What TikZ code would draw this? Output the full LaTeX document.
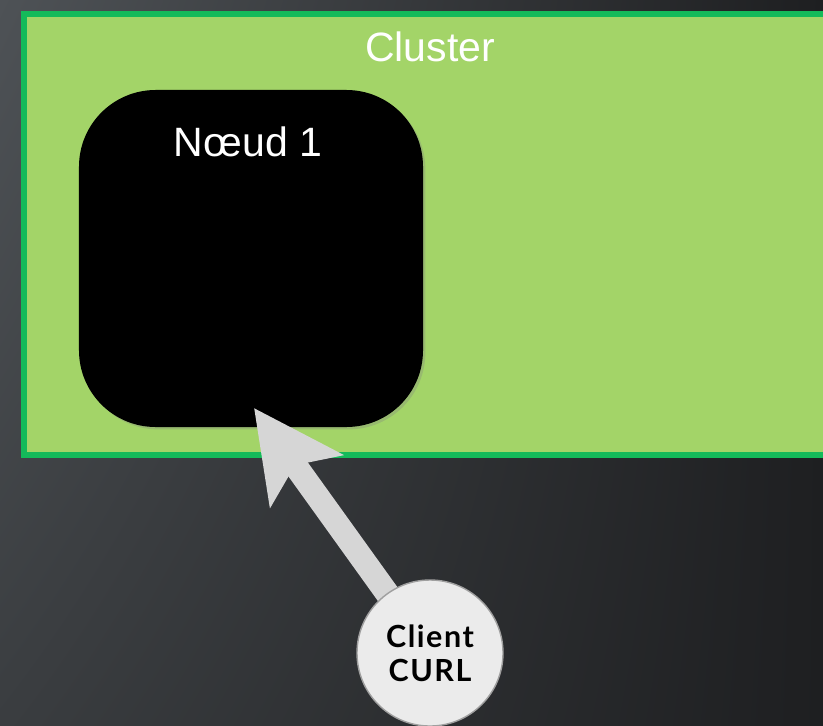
\documentclass[tikz,border=0pt]{standalone}
\usepackage{fontspec}
\setmainfont{Liberation Sans}
\newfontfamily\clientfont{Lato}[LetterSpace=5]
\usetikzlibrary{arrows.meta,shadows,shadings}
\definecolor{fondclair}{RGB}{78,82,86}
\definecolor{fondmoyen}{RGB}{58,61,64}
\definecolor{fondsombre}{RGB}{30,31,33}
\definecolor{vertclair}{RGB}{163,212,104}
\definecolor{vertbord}{RGB}{20,186,90}
\definecolor{grisfleche}{RGB}{214,214,214}
\definecolor{grisclient}{RGB}{235,235,235}
\pgfdeclarelayer{dessus}
\pgfsetlayers{main,dessus}

\begin{document}
\begin{tikzpicture}[x=0.03cm,y=-0.03cm,
  titre/.style={text=white,font=\fontsize{35}{40}\selectfont},
  cluster/.style={draw=vertbord,fill=vertclair,line width=5pt,minimum width=24.8cm,minimum height=13.25cm},
  noeud/.style={fill=black,rounded corners=2.3cm,minimum width=10.32cm,minimum height=10.11cm,
    drop shadow={opacity=0.3,shadow xshift=2pt,shadow yshift=-2pt}},
  client/.style={circle,fill=grisclient,draw=gray!75,line width=1.2pt,minimum size=4.38cm,
    align=center,font=\clientfont\bfseries\fontsize{26}{29}\selectfont},
  fleche/.style={draw=grisfleche,line width=20.4pt,-{Stealth[length=76pt,width=75pt,inset=16pt]}}]
  \useasboundingbox (0,0) rectangle (823,725);
  \clip (0,0) rectangle (823,725);
  % fond
  \shade[upper left=fondclair,lower left=fondmoyen,upper right=fondsombre,lower right=fondsombre]
    (0,0) rectangle (823,725);
  % cluster
  \node[cluster] (cluster) at (437,234.5) {};
  \node[titre] (titrecluster) at (430,47) {Cluster};
  % noeud
  \node[noeud] (noeud) at (251,258.5) {};
  \node[titre] (titrenoeud) at (248,142) {Nœud 1};
  % client
  \begin{pgfonlayer}{dessus}
    \node[client] (client) at (430,653) {Client\\CURL};
  \end{pgfonlayer}
  \coordinate (pointe) at (254,408);
  \draw[fleche] (client.center) -- (pointe);
\end{tikzpicture}
\end{document}
